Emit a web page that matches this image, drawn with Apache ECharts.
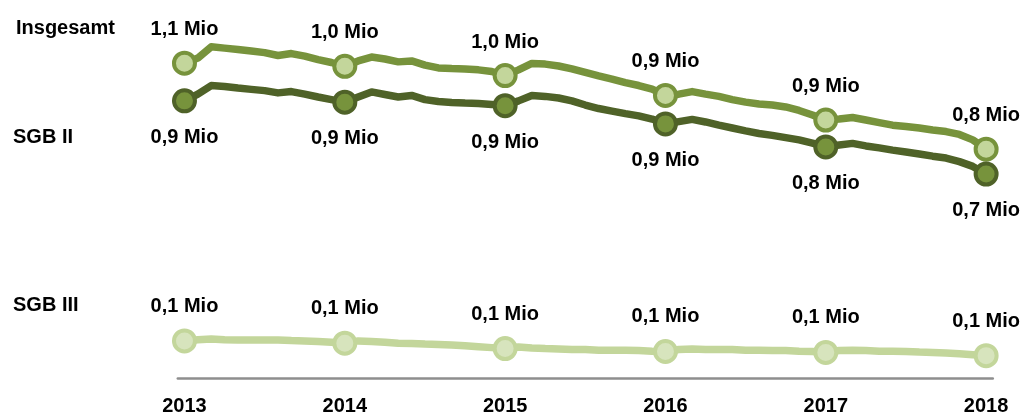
<!DOCTYPE html>
<html>
<head>
<meta charset="utf-8">
<script src="https://cdn.jsdelivr.net/npm/echarts@6/dist/echarts.min.js"></script>
<style>
  html, body { margin: 0; padding: 0; background: #fff; }
  #chart { width: 1025px; height: 413px; }
</style>
</head>
<body>
<div id="chart"></div>
<script>
// monthly values (thousands), one marker per January
let years = ['2013', '2014', '2015', '2016', '2017', '2018'];
let insgesamt = [
    1060, 1076, 1111, 1107, 1103, 1098, 1093, 1084, 1090, 1082, 1071, 1062,
    1050, 1067, 1079, 1073, 1064, 1067, 1054, 1045, 1043, 1042, 1039, 1034,
    1021, 1039, 1059, 1057, 1051, 1042, 1031, 1020, 1010, 999, 990, 979,
    959, 963, 971, 963, 956, 946, 938, 932, 929, 923, 912, 898,
    882, 885, 890, 882, 874, 866, 862, 857, 851, 846, 837, 820,
    791
];
let sgb2 = [
    942, 963, 990, 987, 982, 978, 974, 967, 971, 963, 954, 946,
    938, 954, 970, 962, 954, 959, 946, 940, 937, 935, 934, 931,
    927, 942, 959, 956, 951, 942, 929, 918, 910, 902, 895, 885,
    870, 877, 884, 876, 866, 857, 848, 840, 834, 827, 820, 810,
    798, 804, 809, 801, 795, 788, 782, 776, 769, 763, 752, 737,
    713
];
let sgb3 = [
    121, 125, 127, 125, 124, 124, 124, 124, 122, 121, 119, 117,
    114, 121, 119, 117, 114, 113, 111, 110, 108, 106, 103, 100,
    97, 102, 99, 97, 96, 94, 94, 92, 92, 92, 91, 89,
    88, 94, 96, 94, 94, 94, 92, 92, 91, 91, 89, 88,
    85, 91, 92, 91, 89, 89, 88, 86, 85, 83, 81, 78,
    75
];
let labInsg = ['1,1 Mio', '1,0 Mio', '1,0 Mio', '0,9 Mio', '0,9 Mio', '0,8 Mio'];
let labSgb2 = ['0,9 Mio', '0,9 Mio', '0,9 Mio', '0,9 Mio', '0,8 Mio', '0,7 Mio'];
let labSgb3 = ['0,1 Mio', '0,1 Mio', '0,1 Mio', '0,1 Mio', '0,1 Mio', '0,1 Mio'];

let months = [];
for (let i = 0; i < insgesamt.length; i++) {
    let y = years[Math.floor(i / 12)];
    months.push(y + '-' + (i % 12 + 1));
}

let font = 'Liberation Sans';
let fsize = 20;

function makeSeries(name, data, labels, lineColor, fillColor, pos, dist, axis) {
    return {
        name: name,
        type: 'line',
        yAxisIndex: axis,
        data: data,
        showAllSymbol: true,
        symbol: 'circle',
        symbolSize: function (v, p) { return p.dataIndex % 12 === 0 ? 21 : 0; },
        lineStyle: { color: lineColor, width: 7.5, cap: 'round', join: 'round' },
        itemStyle: { color: fillColor, borderColor: lineColor, borderWidth: 4 },
        label: {
            show: true,
            position: pos,
            distance: dist,
            fontFamily: font,
            fontWeight: 'bold',
            fontSize: fsize,
            color: '#000',
            formatter: function (p) {
                return p.dataIndex % 12 === 0 ? labels[p.dataIndex / 12] : '';
            }
        },
        emphasis: { disabled: true },
        animation: false
    };
}

let option = {
    animation: false,
    grid: { left: 177.8, right: 32.2, top: 20, bottom: 35, outerBoundsMode: 'none' },
    xAxis: {
        type: 'category',
        data: months,
        axisLine: { lineStyle: { color: '#8e8e8e', width: 2.5 } },
        axisTick: { show: false },
        axisLabel: {
            interval: function (i) { return i % 12 === 0; },
            formatter: function (v) { return v.slice(0, 4); },
            margin: 18,
            fontFamily: font,
            fontWeight: 'bold',
            fontSize: fsize,
            color: '#000'
        }
    },
    yAxis: [
        { type: 'value', min: 75, max: 1195, show: false },
        { type: 'value', min: 5, max: 1125, show: false }
    ],
    graphic: [
        { type: 'text', left: 16, top: 18, style: { text: 'Insgesamt', font: 'bold 20px ' + font, fill: '#000' } },
        { type: 'text', left: 13, top: 127, style: { text: 'SGB II', font: 'bold 20px ' + font, fill: '#000' } },
        { type: 'text', left: 13, top: 295, style: { text: 'SGB III', font: 'bold 20px ' + font, fill: '#000' } }
    ],
    series: [
        makeSeries('Insgesamt', insgesamt, labInsg, '#77933c', '#c3d69b', 'top', 11, 0),
        makeSeries('SGB II', sgb2, labSgb2, '#4f6228', '#77933c', 'bottom', 14, 0),
        makeSeries('SGB III', sgb3, labSgb3, '#c3d69b', '#d7e4bd', 'top', 12, 1)
    ]
};

let myChart = echarts.init(document.getElementById('chart'));
myChart.setOption(option);
</script>
</body>
</html>
